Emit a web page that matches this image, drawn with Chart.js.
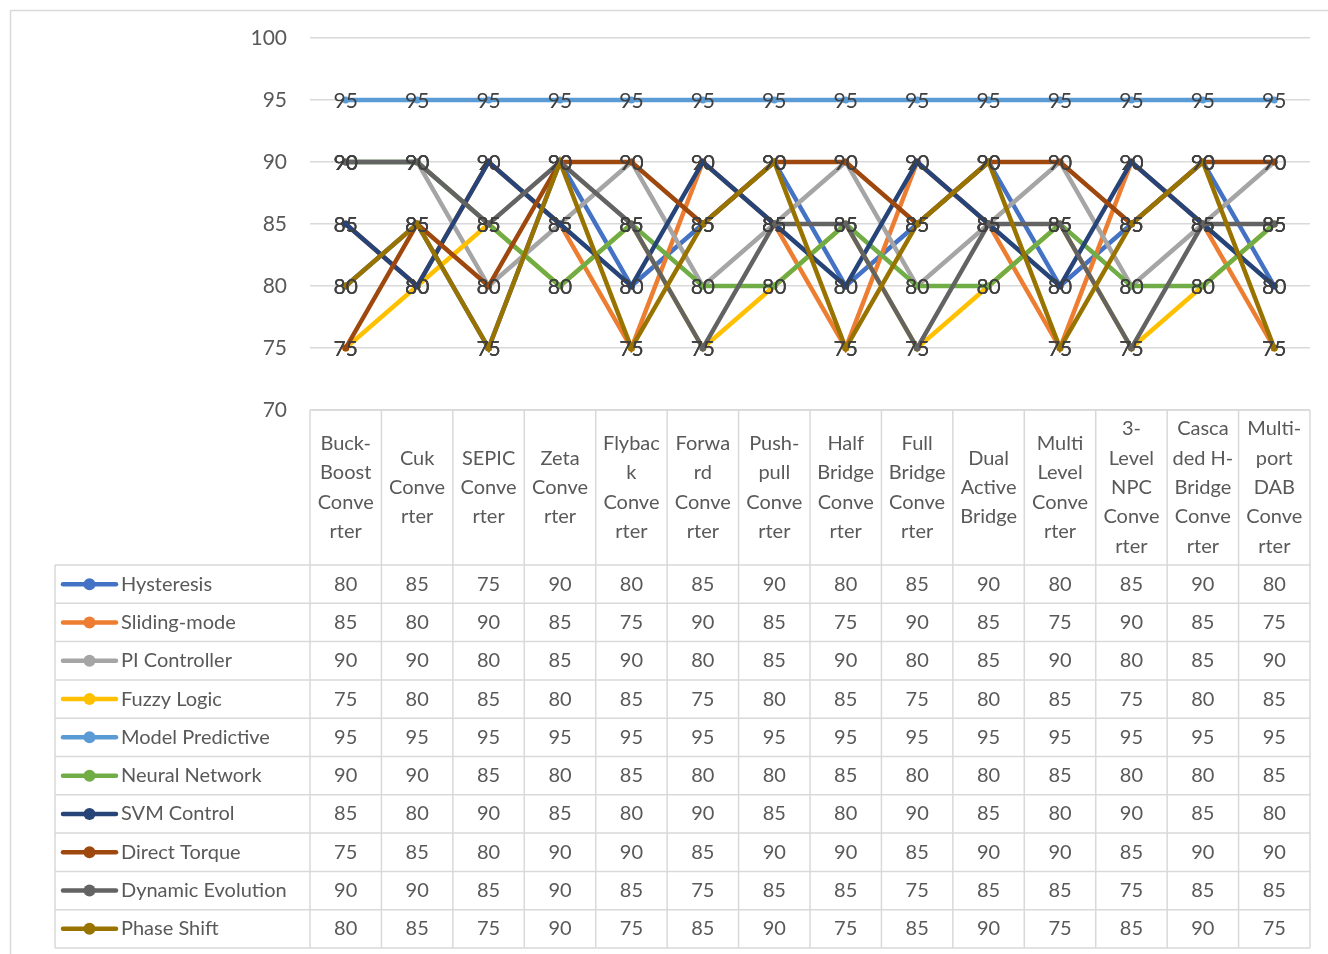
<!DOCTYPE html>
<html>
<head>
<meta charset="utf-8">
<script src="https://cdn.jsdelivr.net/npm/chart.js@4.4.1/dist/chart.umd.min.js"></script>
<style>
  html, body { margin: 0; padding: 0; background: #fff; }
  #wrap { width: 1328px; height: 954px; }
</style>
</head>
<body>
<div id="wrap"><canvas id="chart"></canvas></div>
<script>
const categories = ['Buck-Boost Converter', 'Cuk Converter', 'SEPIC Converter', 'Zeta Converter',
  'Flyback Converter', 'Forward Converter', 'Push-pull Converter', 'Half Bridge Converter',
  'Full Bridge Converter', 'Dual Active Bridge', 'Multi Level Converter', '3-Level NPC Converter',
  'Cascaded H-Bridge Converter', 'Multi-port DAB Converter'];

// category names as they wrap in the table header
const headerLines = [
  ['Buck-', 'Boost', 'Conve', 'rter'],
  ['Cuk', 'Conve', 'rter'],
  ['SEPIC', 'Conve', 'rter'],
  ['Zeta', 'Conve', 'rter'],
  ['Flybac', 'k', 'Conve', 'rter'],
  ['Forwa', 'rd', 'Conve', 'rter'],
  ['Push-', 'pull', 'Conve', 'rter'],
  ['Half', 'Bridge', 'Conve', 'rter'],
  ['Full', 'Bridge', 'Conve', 'rter'],
  ['Dual', 'Active', 'Bridge'],
  ['Multi', 'Level', 'Conve', 'rter'],
  ['3-', 'Level', 'NPC', 'Conve', 'rter'],
  ['Casca', 'ded H-', 'Bridge', 'Conve', 'rter'],
  ['Multi-', 'port', 'DAB', 'Conve', 'rter']
];

const seriesNames = ['Hysteresis', 'Sliding-mode', 'PI Controller', 'Fuzzy Logic', 'Model Predictive',
  'Neural Network', 'SVM Control', 'Direct Torque', 'Dynamic Evolution', 'Phase Shift'];

const hysteresis = [80, 85, 75, 90, 80, 85, 90, 80, 85, 90, 80, 85, 90, 80];
const slidingMode = [85, 80, 90, 85, 75, 90, 85, 75, 90, 85, 75, 90, 85, 75];
const piController = [90, 90, 80, 85, 90, 80, 85, 90, 80, 85, 90, 80, 85, 90];
const fuzzyLogic = [75, 80, 85, 80, 85, 75, 80, 85, 75, 80, 85, 75, 80, 85];
const modelPredictive = [95, 95, 95, 95, 95, 95, 95, 95, 95, 95, 95, 95, 95, 95];
const neuralNetwork = [90, 90, 85, 80, 85, 80, 80, 85, 80, 80, 85, 80, 80, 85];
const svmControl = [85, 80, 90, 85, 80, 90, 85, 80, 90, 85, 80, 90, 85, 80];
const directTorque = [75, 85, 80, 90, 90, 85, 90, 90, 85, 90, 90, 85, 90, 90];
const dynamicEvolution = [90, 90, 85, 90, 85, 75, 85, 85, 75, 85, 85, 75, 85, 85];
const phaseShift = [80, 85, 75, 90, 75, 85, 90, 75, 85, 90, 75, 85, 90, 75];

const yTicks = [70, 75, 80, 85, 90, 95, 100];

const seriesValues = [hysteresis, slidingMode, piController, fuzzyLogic, modelPredictive,
  neuralNetwork, svmControl, directTorque, dynamicEvolution, phaseShift];
const colors = ['#4472C4', '#ED7D31', '#A5A5A5', '#FFC000', '#5B9BD5',
  '#70AD47', '#264478', '#9E480E', '#636363', '#997300'];

const FONT = 'Lato, "Open Sans", sans-serif';
const textGray = '#595959';
const lineGray = '#d9d9d9';

// table geometry (below the plot)
const headerBottom = 565;
const rowH = 38.3;
const tableLeft = 55;

// data labels + data table + outer border
const tablePlugin = {
  id: 'tablePlugin',
  afterDatasetsDraw(chart) {
    const ctx = chart.ctx;
    ctx.save();
    ctx.font = '21px ' + FONT;
    ctx.fillStyle = '#404040';
    ctx.textAlign = 'center';
    ctx.textBaseline = 'middle';
    chart.data.datasets.forEach((ds, i) => {
      chart.getDatasetMeta(i).data.forEach((pt, j) => {
        ctx.fillText(String(ds.data[j]), pt.x, pt.y + 1);
      });
    });
    ctx.restore();
  },
  afterDraw(chart) {
    const ctx = chart.ctx;
    const area = chart.chartArea;
    const x = chart.scales.x;
    const n = categories.length;
    const colW = (area.right - area.left) / n;
    const tableBottom = headerBottom + rowH * seriesNames.length;
    ctx.save();

    // outer chart border
    ctx.strokeStyle = lineGray;
    ctx.lineWidth = 1.5;
    ctx.strokeRect(10.5, 10.5, 1330, 960);

    // grid of the table
    ctx.lineWidth = 1.5;
    ctx.beginPath();
    ctx.moveTo(area.left, area.bottom);
    ctx.lineTo(area.right, area.bottom);
    for (let r = 0; r <= seriesNames.length; r++) {
      const y = headerBottom + r * rowH;
      ctx.moveTo(tableLeft, y);
      ctx.lineTo(area.right, y);
    }
    for (let c = 0; c <= n; c++) {
      const xx = area.left + c * colW;
      ctx.moveTo(xx, area.bottom);
      ctx.lineTo(xx, tableBottom);
    }
    ctx.moveTo(tableLeft, headerBottom);
    ctx.lineTo(tableLeft, tableBottom);
    ctx.stroke();

    // header texts
    ctx.fillStyle = textGray;
    ctx.font = '20px ' + FONT;
    ctx.textAlign = 'center';
    ctx.textBaseline = 'middle';
    const headMid = (area.bottom + headerBottom) / 2;
    const lh = 29.4;
    headerLines.forEach((lines, c) => {
      const cx = x.getPixelForValue(c);
      const y0 = headMid - (lines.length - 1) * lh / 2;
      lines.forEach((t, k) => ctx.fillText(t, cx, y0 + k * lh));
    });

    // rows
    seriesNames.forEach((name, r) => {
      const cy = headerBottom + r * rowH + rowH / 2;
      // legend key
      ctx.strokeStyle = colors[r];
      ctx.lineWidth = 4.5;
      ctx.lineCap = 'round';
      ctx.beginPath();
      ctx.moveTo(63, cy);
      ctx.lineTo(116, cy);
      ctx.stroke();
      ctx.fillStyle = colors[r];
      ctx.beginPath();
      ctx.arc(89.5, cy, 6, 0, Math.PI * 2);
      ctx.fill();
      ctx.fillStyle = textGray;
      ctx.textAlign = 'left';
      ctx.fillText(name, 121, cy);
      ctx.textAlign = 'center';
      seriesValues[r].forEach((v, c) => {
        ctx.fillText(String(v), x.getPixelForValue(c), cy);
      });
    });
    ctx.restore();
  }
};

new Chart(document.getElementById('chart'), {
  type: 'line',
  data: {
    labels: categories,
    datasets: seriesNames.map((name, i) => ({
      label: name,
      data: seriesValues[i],
      borderColor: colors[i],
      backgroundColor: colors[i],
      borderWidth: 4.5,
      pointRadius: 3.5,
      pointBorderWidth: 0,
      tension: 0,
      order: seriesNames.length - i
    }))
  },
  options: {
    responsive: true,
    maintainAspectRatio: false,
    animation: false,
    layout: { padding: { top: 38, right: 18, bottom: 544, left: 0 } },
    plugins: {
      legend: { display: false },
      tooltip: { enabled: false }
    },
    scales: {
      x: {
        type: 'category',
        offset: true,
        display: false
      },
      y: {
        min: 70,
        max: 100,
        afterBuildTicks(scale) {
          scale.ticks = yTicks.map(v => ({ value: v }));
        },
        afterFit(scale) { scale.width = 310; },
        border: { display: false },
        grid: { color: lineGray, lineWidth: 1.5, drawTicks: false },
        ticks: {
          padding: 23,
          color: textGray,
          font: { size: 21, family: FONT }
        }
      }
    }
  },
  plugins: [tablePlugin]
});
</script>
</body>
</html>
